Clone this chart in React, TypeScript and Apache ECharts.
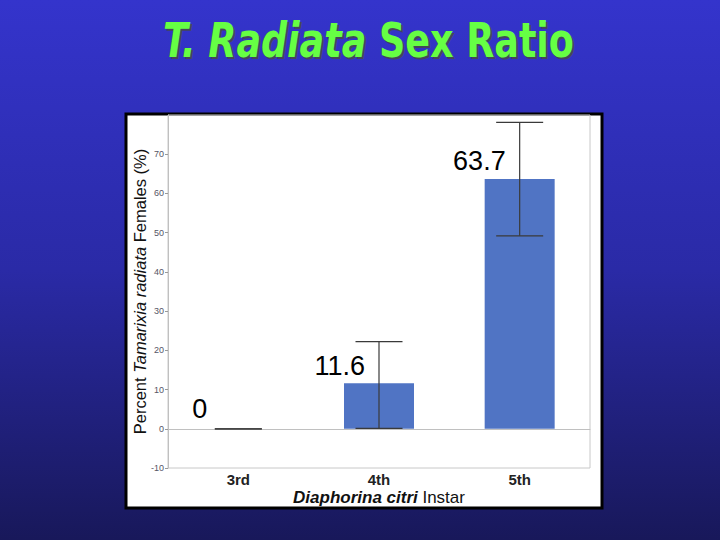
import React, { useEffect, useRef } from 'react';
import * as echarts from 'echarts';

// Instar stages and the mean % of females for each
const instars = ['3rd', '4th', '5th'];
const femalePercent = [0, 11.6, 63.7];
// 95% CI, read from the whiskers
const ciLow = [0, 0.1, 49.2];
const ciHigh = [0, 22.2, 78.1];
const yTicks = { min: -10, max: 80, step: 10 };

const titleRich = (fill: string) => ({
  i: {
    fontFamily: 'DejaVu Sans',
    fontWeight: 'bold',
    fontStyle: 'italic',
    fontSize: 48,
    fill,
  },
  n: {
    fontFamily: 'DejaVu Sans',
    fontWeight: 'bold',
    fontSize: 48,
    fill,
  },
});

export default function App() {
  const chartRef = useRef<HTMLDivElement>(null);

  useEffect(() => {
    const chart = echarts.init(chartRef.current!, undefined, { renderer: 'svg' });

    const errorData = instars.map((_, i) => [i, ciLow[i], ciHigh[i]]);
    // zero bar gets its label pushed further left, as on the slide
    const barData = femalePercent.map((v) =>
      v === 0 ? { value: v, label: { position: [4, -6] } } : v
    );

    const option = {
      animation: false,
      backgroundColor: new echarts.graphic.LinearGradient(0, 0, 0, 1, [
        { offset: 0, color: '#3434cc' },
        { offset: 0.5, color: '#2a2aa6' },
        { offset: 1, color: '#18185a' },
      ]),
      graphic: [
        {
          type: 'rect',
          z: -10,
          shape: { x: 126, y: 114, width: 476, height: 394 },
          style: { fill: '#ffffff', stroke: '#000000', lineWidth: 3 },
        },
        {
          // drop shadow of the title
          type: 'text',
          x: 370.5,
          y: 42,
          scaleX: 0.76,
          silent: true,
          style: {
            text: '{i|T. Radiata }{n|Sex Ratio}',
            align: 'center',
            verticalAlign: 'middle',
            rich: titleRich('#44465a'),
          },
        },
        {
          type: 'text',
          x: 368.5,
          y: 40,
          scaleX: 0.76,
          style: {
            text: '{i|T. Radiata }{n|Sex Ratio}',
            align: 'center',
            verticalAlign: 'middle',
            rich: titleRich('#66ff44'),
          },
        },
      ],
      grid: {
        left: 168,
        right: 130,
        top: 115,
        bottom: 72,
        show: true,
        borderColor: '#c8c8c8',
        borderWidth: 1,
        backgroundColor: 'transparent',
      },
      xAxis: {
        type: 'category',
        data: instars,
        axisTick: { show: false },
        axisLine: { lineStyle: { color: '#c0c0c0' } },
        axisLabel: {
          color: '#222',
          fontFamily: 'Liberation Sans',
          fontWeight: 'bold',
          fontSize: 15,
          margin: 4,
        },
        name: '{b|Diaphorina citri}{n| Instar}',
        nameLocation: 'middle',
        nameGap: 21,
        nameMoveOverlap: false,
        nameTextStyle: {
          rich: {
            b: {
              fontFamily: 'Liberation Sans',
              fontWeight: 'bold',
              fontStyle: 'italic',
              fontSize: 17,
              color: '#111',
            },
            n: {
              fontFamily: 'Liberation Sans',
              fontSize: 17,
              color: '#111',
            },
          },
        },
      },
      yAxis: {
        type: 'value',
        min: yTicks.min,
        max: yTicks.max,
        interval: yTicks.step,
        splitLine: { show: false },
        axisLine: { show: true, lineStyle: { color: '#c0c0c0' } },
        axisTick: { show: true, length: 3, lineStyle: { color: '#999' } },
        axisLabel: {
          color: '#555566',
          fontFamily: 'Liberation Sans',
          fontSize: 9,
          margin: 4,
          showMaxLabel: false,
        },
        name: '{n|Percent }{i|Tamarixia radiata}{n| Females (%)}',
        nameLocation: 'middle',
        nameGap: 20,
        nameMoveOverlap: false,
        nameRotate: 90,
        nameTextStyle: {
          rich: {
            n: { fontFamily: 'Liberation Sans', fontSize: 16.5, color: '#111' },
            i: {
              fontFamily: 'Liberation Sans',
              fontStyle: 'italic',
              fontSize: 16.5,
              color: '#111',
            },
          },
        },
      },
      series: [
        {
          type: 'bar',
          data: barData,
          barWidth: 70,
          itemStyle: { color: '#5074c4' },
          label: {
            show: true,
            position: [21, -4],
            align: 'right',
            verticalAlign: 'bottom',
            fontFamily: 'Liberation Sans',
            fontSize: 27,
            color: '#000',
            formatter: (p: any) => String(p.value),
          },
        },
        {
          type: 'custom',
          data: errorData,
          z: 5,
          renderItem: (params: any, api: any) => {
            const x = api.value(0);
            const lo = api.coord([x, api.value(1)]);
            const hi = api.coord([x, api.value(2)]);
            const half = 23.5;
            const style = { stroke: '#3a3a3a', lineWidth: 1.2 };
            return {
              type: 'group',
              children: [
                { type: 'line', shape: { x1: hi[0], y1: hi[1], x2: lo[0], y2: lo[1] }, style },
                { type: 'line', shape: { x1: hi[0] - half, y1: hi[1], x2: hi[0] + half, y2: hi[1] }, style },
                { type: 'line', shape: { x1: lo[0] - half, y1: lo[1], x2: lo[0] + half, y2: lo[1] }, style },
              ],
            };
          },
        },
      ],
    };

    chart.setOption(option);
    return () => {
      chart.dispose();
    };
  }, []);

  return (
    <div
      ref={chartRef}
      style={{ position: 'fixed', left: 0, top: 0, width: '720px', height: '540px' }}
    />
  );
}
